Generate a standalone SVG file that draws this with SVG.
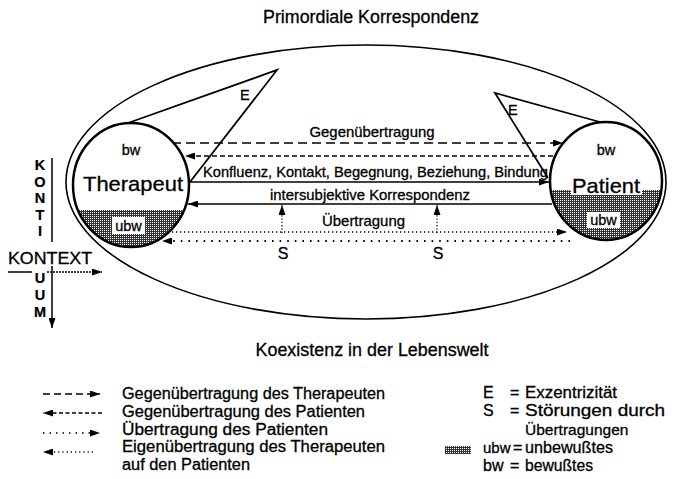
<svg xmlns="http://www.w3.org/2000/svg" width="677" height="479" viewBox="0 0 677 479">
<style>
text{font-family:"Liberation Sans",Arial,Helvetica,sans-serif;fill:#000;stroke:#000;stroke-width:0.3}
.lbl{font-size:14.5px}
.leg{font-size:16px}
.vert{font-size:14.5px;font-weight:bold;stroke-width:0.2}
.big{font-size:17.5px}
.ln{stroke:#000;stroke-width:1.5;fill:none}
.d1{stroke-dasharray:9,5}
.d2{stroke-dasharray:5,3}
.o1{stroke-dasharray:1.3,2.7}
.o2{stroke-dasharray:1.6,6;stroke-width:1.8}
.os{stroke-dasharray:1.3,2;stroke-width:1.2}
.edge{fill:none;stroke:#000;stroke-width:2.5}
.tri{fill:none;stroke:#000;stroke-width:1.8;stroke-linejoin:miter}
</style>
<defs>
<marker id="ah" viewBox="0 0 10 7" refX="10" refY="3.5" markerWidth="10" markerHeight="7" markerUnits="userSpaceOnUse" orient="auto"><path d="M0,0 L10,3.5 L0,7 Z" fill="#000"/></marker>
<pattern id="shade" width="2" height="2" patternUnits="userSpaceOnUse"><rect width="2" height="2" fill="#333"/><rect width="1" height="1" fill="#fff"/></pattern>
<clipPath id="cT"><ellipse cx="131" cy="185" rx="58" ry="62"/></clipPath>
<clipPath id="cP"><ellipse cx="606" cy="181" rx="56" ry="59"/></clipPath>
</defs>
<rect width="677" height="479" fill="#fff"/>

<text class="big" x="371" y="23" text-anchor="middle" textLength="216" lengthAdjust="spacingAndGlyphs">Primordiale Korrespondenz</text>
<g id="lebenswelt">
<ellipse cx="366" cy="182" rx="300" ry="137" fill="none" stroke="#000" stroke-width="1.6"/>
</g>
<text class="big" x="372" y="356" text-anchor="middle" textLength="233" lengthAdjust="spacingAndGlyphs">Koexistenz in der Lebenswelt</text>

<g id="connectors">
<line class="ln d1" x1="172" y1="143" x2="563" y2="143" marker-end="url(#ah)"/>
<line class="ln d2" x1="553" y1="156" x2="185" y2="156" marker-end="url(#ah)"/>
<line class="ln" x1="190" y1="182" x2="549" y2="182" marker-end="url(#ah)"/>
<line class="ln" x1="552" y1="204" x2="188" y2="204" marker-end="url(#ah)"/>
<line class="ln o1" x1="172" y1="232" x2="567" y2="232" marker-end="url(#ah)"/>
<line class="ln o2" x1="570" y1="241" x2="162" y2="241" marker-end="url(#ah)"/>
<line class="ln os" x1="282" y1="233" x2="282" y2="205" marker-end="url(#ah)"/>
<line class="ln os" x1="437" y1="233" x2="437" y2="205" marker-end="url(#ah)"/>
</g>
<g id="connector-labels">
<text class="lbl" x="372" y="137" text-anchor="middle" textLength="125" lengthAdjust="spacingAndGlyphs">Gegenübertragung</text>
<text class="lbl" x="203" y="177" textLength="345" lengthAdjust="spacingAndGlyphs">Konfluenz, Kontakt, Begegnung, Beziehung, Bindung</text>
<text class="lbl" x="270" y="200" textLength="200" lengthAdjust="spacingAndGlyphs">intersubjektive Korrespondenz</text>
<text class="lbl" x="322" y="226" textLength="83" lengthAdjust="spacingAndGlyphs">Übertragung</text>
<text class="leg" x="283" y="259" text-anchor="middle">S</text>
<text class="leg" x="438" y="259" text-anchor="middle">S</text>
</g>

<g id="exzentrizitaet-therapeut">
<polyline class="tri" points="128,123 277,70 190,182"/>
<text class="lbl" x="240" y="100">E</text>
</g>
<g id="exzentrizitaet-patient">
<polyline class="tri" points="600,122 495,93 548,178"/>
<text class="lbl" x="508" y="115">E</text>
</g>

<g id="therapeut">
<ellipse cx="131" cy="185" rx="58" ry="62" fill="#fff"/>
<rect x="70" y="210" width="125" height="45" fill="url(#shade)" clip-path="url(#cT)"/>
<ellipse class="edge" cx="131" cy="185" rx="58" ry="62"/>
<rect x="112" y="217" width="33" height="17" fill="#fff"/>
<text class="lbl" x="128.5" y="231" text-anchor="middle">ubw</text>
<text class="lbl" x="131" y="155" text-anchor="middle">bw</text>
<text x="133" y="191" font-size="21" text-anchor="middle" textLength="100" lengthAdjust="spacingAndGlyphs">Therapeut</text>
</g>

<g id="patient">
<ellipse cx="606" cy="181" rx="56" ry="59" fill="#fff"/>
<rect x="545" y="190" width="125" height="55" fill="url(#shade)" clip-path="url(#cP)"/>
<ellipse class="edge" cx="606" cy="181" rx="56" ry="59"/>
<rect x="571" y="186" width="71" height="9" fill="#fff"/>
<text x="606" y="193" font-size="21" text-anchor="middle" textLength="68" lengthAdjust="spacingAndGlyphs">Patient</text>
<rect x="587" y="212" width="33" height="16" fill="#fff"/>
<text class="lbl" x="603.5" y="225" text-anchor="middle">ubw</text>
<text class="lbl" x="606" y="155" text-anchor="middle">bw</text>
</g>

<g id="kontinuum-kontext">
<line class="ln" x1="52" y1="158" x2="52" y2="242"/>
<line class="ln" x1="52" y1="266" x2="52" y2="328" marker-end="url(#ah)"/>
<line class="ln" x1="8" y1="272" x2="32" y2="272"/>
<line class="ln" x1="47" y1="272" x2="102" y2="272" stroke-width="1.2" stroke-dasharray="2,1" marker-end="url(#ah)"/>
<text class="vert" text-anchor="middle"><tspan x="40" y="170">K</tspan><tspan x="40" y="186.5">O</tspan><tspan x="40" y="203">N</tspan><tspan x="40" y="219.5">T</tspan><tspan x="40" y="236">I</tspan></text>
<text class="vert" text-anchor="middle"><tspan x="40" y="283">U</tspan><tspan x="40" y="300">U</tspan><tspan x="40" y="317">M</tspan></text>
<text class="leg" x="8" y="264" textLength="84" lengthAdjust="spacingAndGlyphs">KONTEXT</text>
</g>

<g id="legende">
<line class="ln" x1="43" y1="394" x2="100" y2="394" stroke-dasharray="7,4" marker-end="url(#ah)"/>
<line class="ln" x1="102" y1="413" x2="43" y2="413" stroke-dasharray="4,2.5" marker-end="url(#ah)"/>
<line class="ln" x1="43" y1="433" x2="100" y2="433" stroke-dasharray="1.5,5" marker-end="url(#ah)"/>
<line class="ln" x1="93" y1="452" x2="43" y2="452" stroke-dasharray="1.2,3" marker-end="url(#ah)"/>
<text class="leg" x="122" y="399" textLength="263" lengthAdjust="spacingAndGlyphs">Gegenübertragung des Therapeuten</text>
<text class="leg" x="122" y="417" textLength="243" lengthAdjust="spacingAndGlyphs">Gegenübertragung des Patienten</text>
<text class="leg" x="122" y="435" textLength="206" lengthAdjust="spacingAndGlyphs">Übertragung des Patienten</text>
<text class="leg" x="122" y="452" textLength="263" lengthAdjust="spacingAndGlyphs">Eigenübertragung des Therapeuten</text>
<text class="leg" x="122" y="470" textLength="128" lengthAdjust="spacingAndGlyphs">auf den Patienten</text>

<text class="leg" x="483" y="398">E</text>
<text class="leg" x="510" y="398">=</text>
<text class="leg" x="525" y="398" textLength="92" lengthAdjust="spacingAndGlyphs">Exzentrizität</text>
<text class="leg" x="483" y="416">S</text>
<text class="leg" x="510" y="416">=</text>
<text class="leg" x="525" y="416" textLength="140" lengthAdjust="spacingAndGlyphs">Störungen durch</text>
<text x="525" y="435" font-size="15.5">Übertragungen</text>
<rect x="445" y="446" width="26" height="8" fill="url(#shade)"/>
<text x="483" y="453" font-size="15">ubw</text>
<text class="leg" x="513" y="453">=</text>
<text class="leg" x="525" y="453" textLength="88" lengthAdjust="spacingAndGlyphs">unbewußtes</text>
<text class="leg" x="483" y="471">bw</text>
<text class="leg" x="510" y="471">=</text>
<text class="leg" x="525" y="471" textLength="68" lengthAdjust="spacingAndGlyphs">bewußtes</text>
</g>
</svg>
